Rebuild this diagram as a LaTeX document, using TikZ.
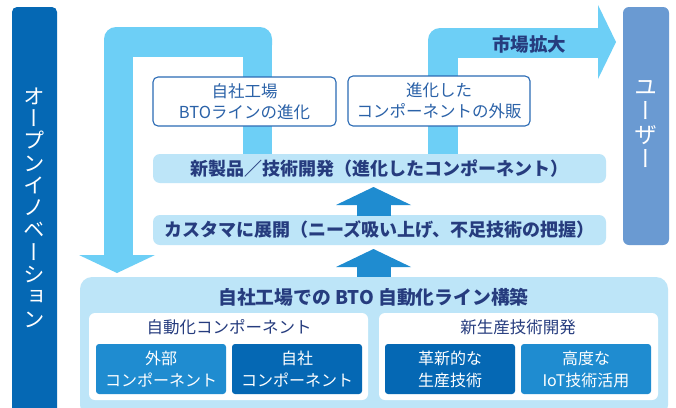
\documentclass[tikz,border=0pt]{standalone}
\usepackage{fontspec}
\usepackage{graphicx}
\newfontfamily\jp{Noto Sans CJK JP}
\newfontfamily\jpv[RawFeature=+vert]{Noto Sans CJK JP}
\definecolor{darkblue}{HTML}{0568B4}
\definecolor{midblue}{HTML}{1F8CD0}
\definecolor{cyanarrow}{HTML}{6DCFF6}
\definecolor{barblue}{HTML}{BDE5F8}
\definecolor{userblue}{HTML}{6A9AD2}
\definecolor{navy}{HTML}{263C7E}
\definecolor{boxline}{HTML}{2A6AB4}
\definecolor{boxtext}{HTML}{2B62A8}
\begin{document}
\begin{tikzpicture}[x=1pt,y=-1pt,
  every node/.style={inner sep=0pt, outer sep=0pt},
  lightbar/.style={fill=barblue, rounded corners=7pt},
  outline/.style={draw=boxline, line width=1.1pt, fill=white, rounded corners=5pt, text=boxtext, align=center, font=\jp\fontsize{16.5}{21}\selectfont},
  boldtext/.style={text=navy, font=\jp\bfseries\fontsize{18}{20}\selectfont},
  subtext/.style={text=navy, font=\jp\fontsize{16.5}{20}\selectfont},
  tile/.style={rounded corners=3pt, text=white, align=center, font=\jp\fontsize{16}{22}\selectfont, minimum width=130pt, minimum height=50pt},
  vtext/.style={text=white, align=center},
  arrowfill/.style={fill=cyanarrow},
  uparrow/.style={fill=midblue}
]
\clip (0,0) rectangle (676,407);
\fill[white] (0,0) rectangle (676,407);

% left bar
\node[fill=darkblue, rounded corners=5pt, minimum width=45pt, minimum height=410pt] (lb) at (34.5,212) {};
\node[vtext, font=\jpv\fontsize{21.5}{22.3}\selectfont] (lbt) at (34.5,207.5) {オ\\ー\\プ\\ン\\イ\\ノ\\ベ\\ー\\シ\\ョ\\ン};

% user bar
\node[fill=userblue, rounded corners=6pt, minimum width=46pt, minimum height=238pt] (ub) at (646,126) {};
\node[vtext, font=\jpv\fontsize{23}{24}\selectfont] (ubt) at (646,124) {ユ\\ー\\ザ\\ー};

% big U arrow
\fill[arrowfill, rounded corners=12pt] (104,27) rectangle (133,57);
\fill[arrowfill, rounded corners=12pt] (243,27) rectangle (272,57);
\fill[arrowfill] (116,27) rectangle (260,57);
\fill[arrowfill] (104,40) rectangle (133,255.5);
\fill[arrowfill] (243,40) rectangle (272,165);
\fill[arrowfill] (79,255) -- (155,255) -- (117,273) -- cycle;

% right arrow
\fill[arrowfill, rounded corners=12pt] (428,28) rectangle (458,58);
\fill[arrowfill] (440,28) rectangle (599,58);
\fill[arrowfill] (428,40) rectangle (458,165);
\fill[arrowfill] (598,5) -- (616,42) -- (598,79) -- cycle;
\node[boldtext, font=\jp\bfseries\fontsize{18.5}{20}\selectfont] (mk) at (529,44) {市場拡大};

% outlined boxes
\node[outline, minimum width=183pt, minimum height=49pt] (b1) at (244.5,101.5) {自社工場\\BTOラインの進化};
\node[outline, minimum width=182pt, minimum height=50pt] (b2) at (439,101) {進化した\\コンポーネントの外販};

% bars
\node[lightbar, minimum width=453pt, minimum height=29pt, boldtext] (bar1) at (379.5,168.5) {新製品／技術開発（進化したコンポーネント）};
\node[lightbar, minimum width=453pt, minimum height=30pt, boldtext] (bar2) at (379.5,230) {カスタマに展開（ニーズ吸い上げ、不足技術の把握）};

% up arrows
\fill[uparrow] (357,204) rectangle (391,215.5);
\fill[uparrow] (336,205) -- (411,205) -- (373.5,187) -- cycle;
\fill[uparrow] (357,266) rectangle (391,277.5);
\fill[uparrow] (336,267) -- (411,267) -- (373.5,249) -- cycle;

% bottom box
\node[lightbar, rounded corners=12pt, minimum width=588pt, minimum height=140pt] (base) at (374,347) {};
\node[boldtext, font=\jp\bfseries\fontsize{18.8}{20}\selectfont] (bt) at (373.5,297) {自社工場での BTO 自動化ライン構築};
\node[fill=white, rounded corners=6pt, minimum width=279pt, minimum height=87pt] (wl) at (228.5,356.5) {};
\node[fill=white, rounded corners=6pt, minimum width=279pt, minimum height=87pt] (wr) at (518.5,356.5) {};
\node[subtext] (sl) at (229,327) {自動化コンポーネント};
\node[subtext] (sr) at (518,327) {新生産技術開発};
\node[tile, fill=midblue] (t1) at (161,369) {外部\\コンポーネント};
\node[tile, fill=darkblue] (t2) at (297,369) {自社\\コンポーネント};
\node[tile, fill=darkblue] (t3) at (450,369) {革新的な\\生産技術};
\node[tile, fill=midblue] (t4) at (586,369) {高度な\\IoT技術活用};
\end{tikzpicture}
\end{document}
